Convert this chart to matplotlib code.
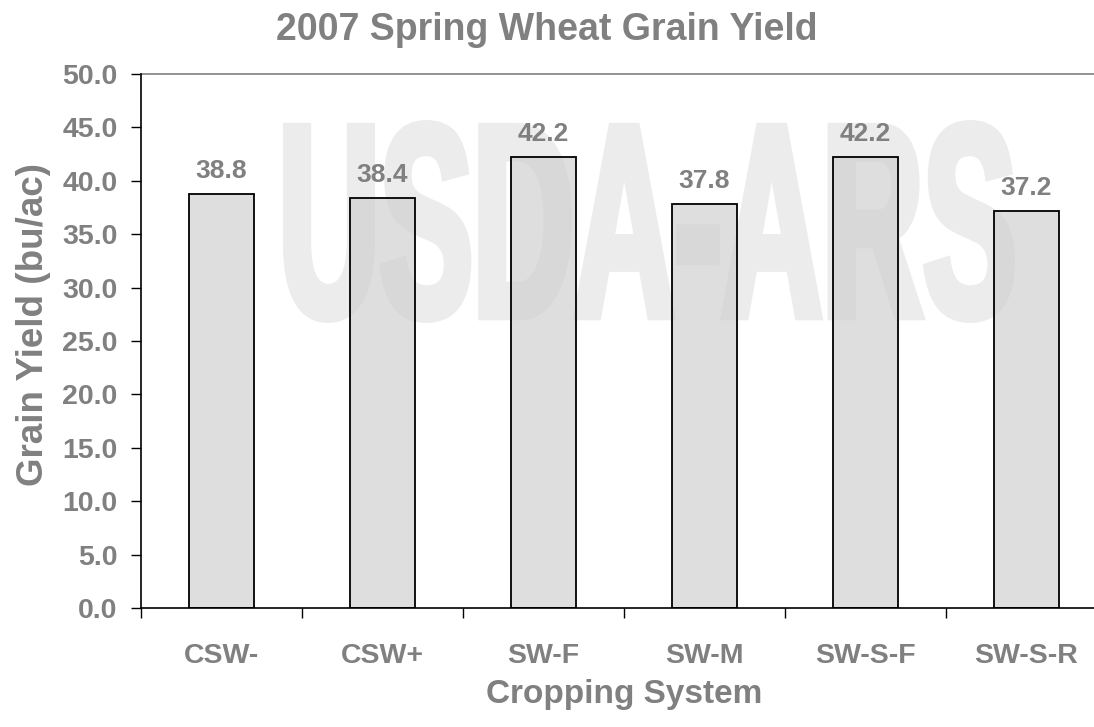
import matplotlib
matplotlib.use('Agg')
import matplotlib.pyplot as plt
from matplotlib.textpath import TextPath
from matplotlib.font_manager import FontProperties
from matplotlib.patches import PathPatch
from matplotlib.transforms import Affine2D
from matplotlib.ticker import FixedLocator, NullFormatter

categories = ['CSW-', 'CSW+', 'SW-F', 'SW-M', 'SW-S-F', 'SW-S-R']
yields = [38.8, 38.4, 42.2, 37.8, 42.2, 37.2]
y_ticks = [0, 5, 10, 15, 20, 25, 30, 35, 40, 45, 50]
title = '2007 Spring Wheat Grain Yield'
xlabel = 'Cropping System'
ylabel = 'Grain Yield (bu/ac)'
watermark = 'USDA-ARS'

plt.rcParams['font.family'] = ['Liberation Sans', 'DejaVu Sans']
plt.rcParams['font.weight'] = 'bold'
GRAY = '#808080'

W, H = 1094, 727
fig = plt.figure(figsize=(W / 100, H / 100), dpi=100)
ax = fig.add_axes([141 / W, (H - 608) / H, 966 / W, 534 / H])

x = list(range(len(categories)))
# translucent fill so the watermark shows through, opaque black outline
ax.bar(x, yields, width=0.4, color=(0.81, 0.81, 0.81, 0.684), edgecolor='none', zorder=4)
ax.bar(x, yields, width=0.4, facecolor='none', edgecolor='black', linewidth=1.3, zorder=4.5)
ax.set_xlim(-0.5, len(categories) - 0.5)
ax.set_ylim(0, 50)

# watermark (opaque, behind bars)
fp = FontProperties(family=['Liberation Sans Narrow', 'Liberation Sans'], weight='bold')
tp = TextPath((0, 0), watermark, size=100, prop=fp)
ext = tp.get_extents()
lw_px = 8
x0, x1, ytop, ybot = 283 + lw_px / 2, 1015 - lw_px / 2, 120 + lw_px / 2, 323 - lw_px / 2
tr = (Affine2D().translate(-ext.x0, -ext.y0)
      .scale((x1 - x0) / ext.width / W, (ybot - ytop) / ext.height / H)
      .translate(x0 / W, (H - ybot) / H))
wpath = tr.transform_path(tp)
ax.add_patch(PathPatch(wpath, transform=fig.transFigure, facecolor='#ececec',
                       edgecolor='#ececec', linewidth=lw_px * 0.72, joinstyle='miter',
                       zorder=1, clip_on=False))

for i, v in enumerate(yields):
    ax.annotate(f'{v:.1f}', (i, v), xytext=(0, 11.5), textcoords='offset points',
                ha='center', va='baseline', fontsize=19, color=GRAY,
                fontweight='bold', zorder=5)

ax.set_yticks(y_ticks)
ax.set_yticklabels([f'{t:.1f}' for t in y_ticks])
ax.tick_params(axis='y', direction='out', length=7, width=1, color='black',
               labelsize=20.5, labelcolor=GRAY, pad=10)

ax.xaxis.set_major_locator(FixedLocator([i - 0.5 for i in range(len(categories) + 1)]))
ax.xaxis.set_major_formatter(NullFormatter())
ax.tick_params(axis='x', which='major', direction='out', length=7, width=1, color='black')
ax.xaxis.set_minor_locator(FixedLocator(x))
ax.set_xticklabels(categories, minor=True)
ax.tick_params(axis='x', which='minor', length=0, labelsize=20.5, labelcolor=GRAY, pad=25)

for s in ['left', 'bottom']:
    ax.spines[s].set_color('black')
    ax.spines[s].set_linewidth(1.2)
    ax.spines[s].set_zorder(6)
ax.spines['top'].set_color(GRAY)
ax.spines['top'].set_linewidth(1.2)
ax.spines['right'].set_visible(False)

fig.text(0.5, 1 - 40 / H, title, ha='center', va='baseline', fontsize=27,
         color=GRAY, fontweight='bold')
fig.text(624 / W, 1 - 703 / H, xlabel, ha='center', va='baseline', fontsize=24,
         color=GRAY, fontweight='bold')
fig.text(43 / W, 1 - 325 / H, ylabel, ha='center', va='baseline', rotation=90,
         rotation_mode='anchor', fontsize=26.5, color=GRAY, fontweight='bold')

fig.savefig('out.png', dpi=100)
